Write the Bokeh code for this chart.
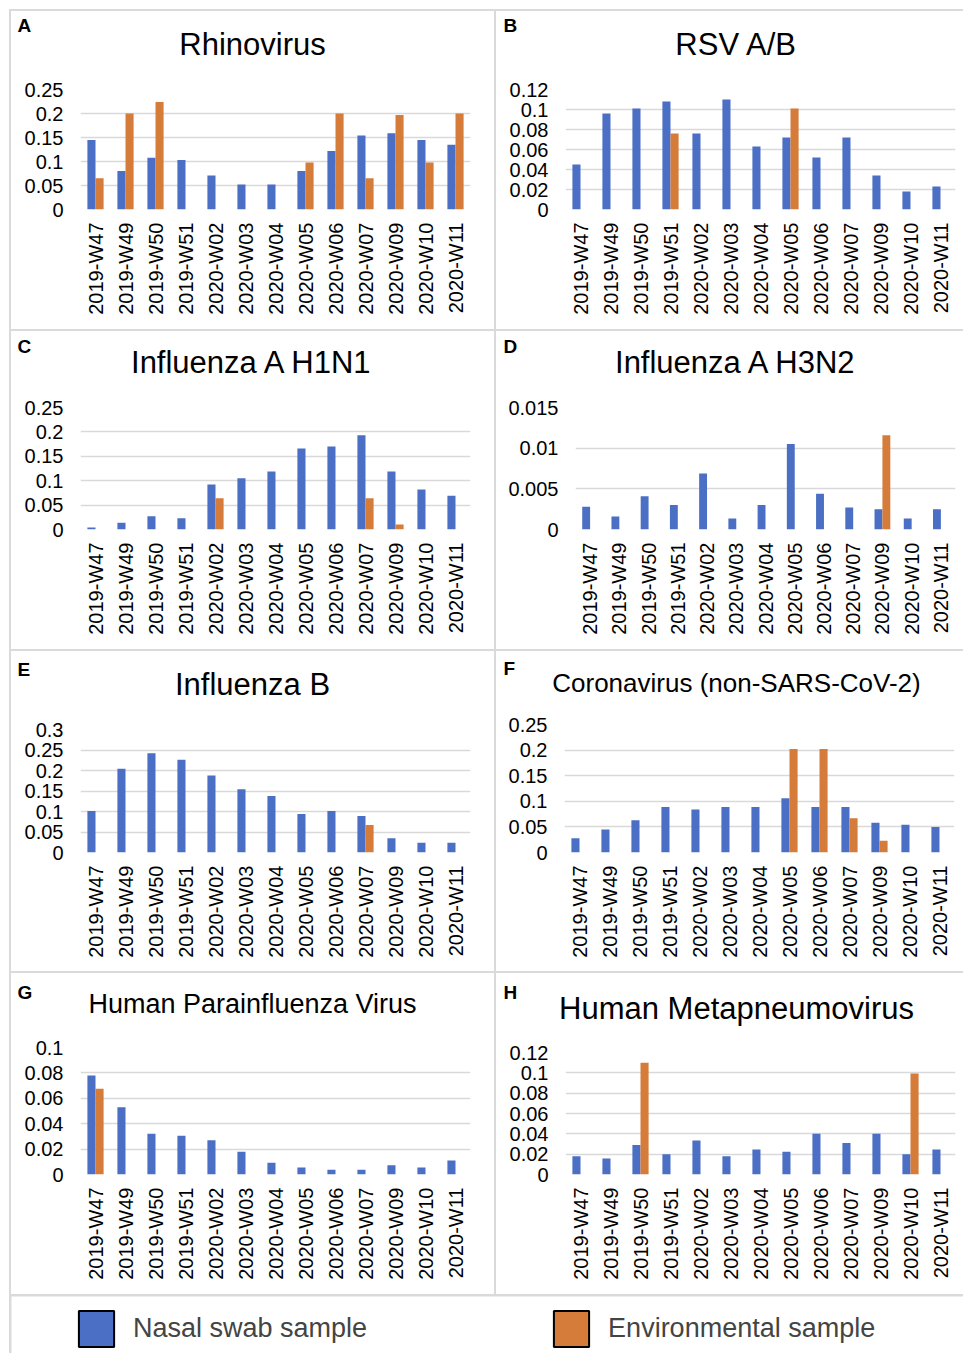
from math import pi
from bokeh.plotting import figure
from bokeh.models import FactorRange, Range1d, FixedTicker, Label, Legend, LegendItem, ColumnDataSource
from bokeh.transform import dodge
from bokeh.layouts import row, column
from bokeh.embed import file_html
from bokeh.resources import INLINE

# ---------------- data ----------------
weeks = ["2019-W47", "2019-W49", "2019-W50", "2019-W51", "2020-W02", "2020-W03", "2020-W04",
         "2020-W05", "2020-W06", "2020-W07", "2020-W09", "2020-W10", "2020-W11"]

rhino_nasal = [0.145, 0.080, 0.108, 0.103, 0.071, 0.052, 0.052, 0.080, 0.122, 0.154, 0.159, 0.145, 0.135]
rhino_env   = [0.065, 0.200, 0.224, 0.0, 0.0, 0.0, 0.0, 0.098, 0.200, 0.065, 0.197, 0.098, 0.200]

rsv_nasal = [0.045, 0.096, 0.101, 0.108, 0.076, 0.110, 0.063, 0.072, 0.052, 0.072, 0.034, 0.018, 0.023]
rsv_env   = [0.0, 0.0, 0.0, 0.076, 0.0, 0.0, 0.0, 0.101, 0.0, 0.0, 0.0, 0.0, 0.0]

h1n1_nasal = [0.004, 0.014, 0.027, 0.023, 0.092, 0.105, 0.119, 0.166, 0.170, 0.193, 0.119, 0.082, 0.069]
h1n1_env   = [0.0, 0.0, 0.0, 0.0, 0.064, 0.0, 0.0, 0.0, 0.0, 0.064, 0.010, 0.0, 0.0]

h3n2_nasal = [0.0028, 0.0016, 0.0041, 0.0030, 0.0069, 0.00135, 0.0030, 0.0105, 0.0044, 0.0027, 0.0025, 0.00135, 0.0025]
h3n2_env   = [0.0, 0.0, 0.0, 0.0, 0.0, 0.0, 0.0, 0.0, 0.0, 0.0, 0.0116, 0.0, 0.0]

flub_nasal = [0.101, 0.204, 0.242, 0.226, 0.188, 0.154, 0.138, 0.094, 0.101, 0.089, 0.035, 0.024, 0.024]
flub_env   = [0.0, 0.0, 0.0, 0.0, 0.0, 0.0, 0.0, 0.0, 0.0, 0.067, 0.0, 0.0, 0.0]

cov_nasal = [0.028, 0.045, 0.063, 0.089, 0.084, 0.089, 0.089, 0.106, 0.089, 0.089, 0.058, 0.054, 0.050]
cov_env   = [0.0, 0.0, 0.0, 0.0, 0.0, 0.0, 0.0, 0.202, 0.202, 0.067, 0.023, 0.0, 0.0]

hpiv_nasal = [0.078, 0.053, 0.032, 0.0305, 0.027, 0.018, 0.0092, 0.0055, 0.0037, 0.0037, 0.0073, 0.0055, 0.011]
hpiv_env   = [0.0675, 0.0, 0.0, 0.0, 0.0, 0.0, 0.0, 0.0, 0.0, 0.0, 0.0, 0.0, 0.0]

hmpv_nasal = [0.018, 0.0157, 0.029, 0.020, 0.0334, 0.018, 0.0246, 0.0223, 0.040, 0.031, 0.040, 0.020, 0.0246]
hmpv_env   = [0.0, 0.0, 0.110, 0.0, 0.0, 0.0, 0.0, 0.0, 0.0, 0.0, 0.0, 0.0993, 0.0]

ticks_025 = [0, 0.05, 0.1, 0.15, 0.2, 0.25]
labels_025 = ["0", "0.05", "0.1", "0.15", "0.2", "0.25"]
ticks_012 = [0, 0.02, 0.04, 0.06, 0.08, 0.1, 0.12]
labels_012 = ["0", "0.02", "0.04", "0.06", "0.08", "0.1", "0.12"]
ticks_0015 = [0, 0.005, 0.01, 0.015]
labels_0015 = ["0", "0.005", "0.01", "0.015"]
ticks_03 = [0, 0.05, 0.1, 0.15, 0.2, 0.25, 0.3]
labels_03 = ["0", "0.05", "0.1", "0.15", "0.2", "0.25", "0.3"]
ticks_01 = [0, 0.02, 0.04, 0.06, 0.08, 0.1]
labels_01 = ["0", "0.02", "0.04", "0.06", "0.08", "0.1"]

letters = ["A", "B", "C", "D", "E", "F", "G", "H"]
titles = ["Rhinovirus", "RSV A/B", "Influenza A H1N1", "Influenza A H3N2", "Influenza B",
          "Coronavirus (non-SARS-CoV-2)", "Human Parainfluenza Virus", "Human Metapneumovirus"]
series_names = ["Nasal swab sample", "Environmental sample"]

# ---------------- styling / layout ----------------
BLUE = "#4b6fc4"
ORANGE = "#d57c3a"
GRID = "#d9d9d9"
LINE = "#dadada"
FONT = "Liberation Sans"

col_x = [11, 496]
col_w = [483, 467]
row_y = [11, 331, 651, 973]
row_h = [318, 318, 320, 321]
TOPPAD = 14

# frame boxes in page coordinates: left, right, top, bottom
frames = [(80, 470, 89, 209), (565, 955, 89, 209),
          (80, 470, 407, 529), (575, 955, 407, 529),
          (80, 470, 729, 852), (564, 954, 724, 852),
          (80, 470, 1047, 1174), (565, 955, 1052, 1174)]
# title centre x, vertical centre y, font size (page coordinates)
title_pos = [(252, 44, 31), (736, 44, 31), (252, 362, 31), (736, 362, 31),
             (252, 684, 31), (736, 682, 26), (252, 1003, 27), (736, 1008, 31)]
letter_pos = [(17, 25), (503, 25), (17, 346), (503, 346),
              (17, 669), (503, 668), (17, 992), (503, 992)]

panel_data = [
    (rhino_nasal, rhino_env, ticks_025, labels_025),
    (rsv_nasal, rsv_env, ticks_012, labels_012),
    (h1n1_nasal, h1n1_env, ticks_025, labels_025),
    (h3n2_nasal, h3n2_env, ticks_0015, labels_0015),
    (flub_nasal, flub_env, ticks_03, labels_03),
    (cov_nasal, cov_env, ticks_025, labels_025),
    (hpiv_nasal, hpiv_env, ticks_01, labels_01),
    (hmpv_nasal, hmpv_env, ticks_012, labels_012),
]


def blank_fig(w, h):
    f = figure(width=w, height=h, output_backend="svg", toolbar_location=None,
               x_axis_location=None, y_axis_location=None, min_border=0,
               x_range=Range1d(0, 1), y_range=Range1d(0, 1))
    f.grid.grid_line_color = None
    f.outline_line_color = None
    f.background_fill_color = "white"
    f.border_fill_color = "white"
    f.frame_align = False
    return f


cells = []
for i, (nasal, env, ticks, tlabels) in enumerate(panel_data):
    r, c = divmod(i, 2)
    x0, y0, w, h = col_x[c], row_y[r], col_w[c], row_h[r]
    L, R, T, B = frames[i]
    hh = T - y0 - TOPPAD

    # header with letter + title
    hd = blank_fig(w, hh)
    tx, ty, ts = title_pos[i]
    hd.add_layout(Label(x=tx - x0, y=(y0 + hh) - ty, x_units="screen", y_units="screen",
                        text=titles[i], text_font=FONT, text_font_size=f"{ts}px",
                        text_color="#000000", text_align="center", text_baseline="middle"))
    lx, ly = letter_pos[i]
    hd.add_layout(Label(x=lx - x0, y=(y0 + hh) - ly, x_units="screen", y_units="screen",
                        text=letters[i], text_font=FONT, text_font_size="19px",
                        text_font_style="bold", text_color="#000000",
                        text_align="left", text_baseline="middle"))

    p = figure(width=w, height=h - hh, x_range=FactorRange(*weeks, range_padding=0),
               y_range=Range1d(0, ticks[-1]), output_backend="svg", toolbar_location=None,
               min_border_left=L - x0, min_border_right=x0 + w - R,
               min_border_top=TOPPAD, min_border_bottom=y0 + h - B)
    p.frame_align = False
    p.outline_line_color = None
    p.background_fill_color = "white"
    p.border_fill_color = "white"
    src = ColumnDataSource(dict(week=weeks, nasal=nasal, env=env))
    p.vbar(x=dodge("week", -0.135, range=p.x_range), top="nasal", width=0.27, source=src,
           fill_color=BLUE, line_color=None)
    p.vbar(x=dodge("week", 0.135, range=p.x_range), top="env", width=0.27, source=src,
           fill_color=ORANGE, line_color=None)

    p.xgrid.grid_line_color = None
    p.ygrid.grid_line_color = GRID
    p.ygrid.grid_line_width = 1.5
    p.yaxis.ticker = FixedTicker(ticks=ticks)
    p.yaxis.major_label_overrides = {t: s for t, s in zip(ticks, tlabels)}
    for ax in (p.xaxis, p.yaxis):
        ax.axis_line_color = None
        ax.major_tick_line_color = None
        ax.minor_tick_line_color = None
        ax.major_tick_out = 0
        ax.major_tick_in = 0
        ax.major_label_text_font = FONT
        ax.major_label_text_font_size = "20px"
        ax.major_label_text_color = "#000000"
    p.yaxis.major_label_standoff = 17
    p.xaxis.major_label_standoff = 13
    p.xaxis.major_label_orientation = pi / 2

    cells.append(column(hd, p, spacing=0, styles={"background-color": "white"}))

# legend strip
lg_w, lg_h = 952, 57
lg = blank_fig(lg_w, lg_h)
dummy = ColumnDataSource(dict(x=[5.0], top=[0.0]))
r1 = lg.vbar(x="x", top="top", width=0.1, source=dummy, fill_color=BLUE, line_color="black", line_width=2)
r2 = lg.vbar(x="x", top="top", width=0.1, source=dummy, fill_color=ORANGE, line_color="black", line_width=2)
legend = Legend(items=[LegendItem(label=series_names[0], renderers=[r1]),
                       LegendItem(label=series_names[1], renderers=[r2])],
                location=(63, 2), orientation="horizontal", glyph_width=44, glyph_height=45,
                label_text_font=FONT, label_text_font_size="27px", label_standoff=15,
                spacing=182, padding=0, margin=0, border_line_color=None,
                background_fill_alpha=0, label_height=45)
lg.add_layout(legend, "center")

rows = [row(cells[0], cells[1], spacing=2), row(cells[2], cells[3], spacing=2),
        row(cells[4], cells[5], spacing=2), row(cells[6], cells[7], spacing=2)]
inner = column(*rows, lg, spacing=2,
               styles={"background-color": LINE, "padding": "2px 0px 0px 2px"})
page = column(inner, styles={"background-color": "white", "padding": "9px 0px 0px 9px"})

open("out.html", "w").write(file_html(page, INLINE))
